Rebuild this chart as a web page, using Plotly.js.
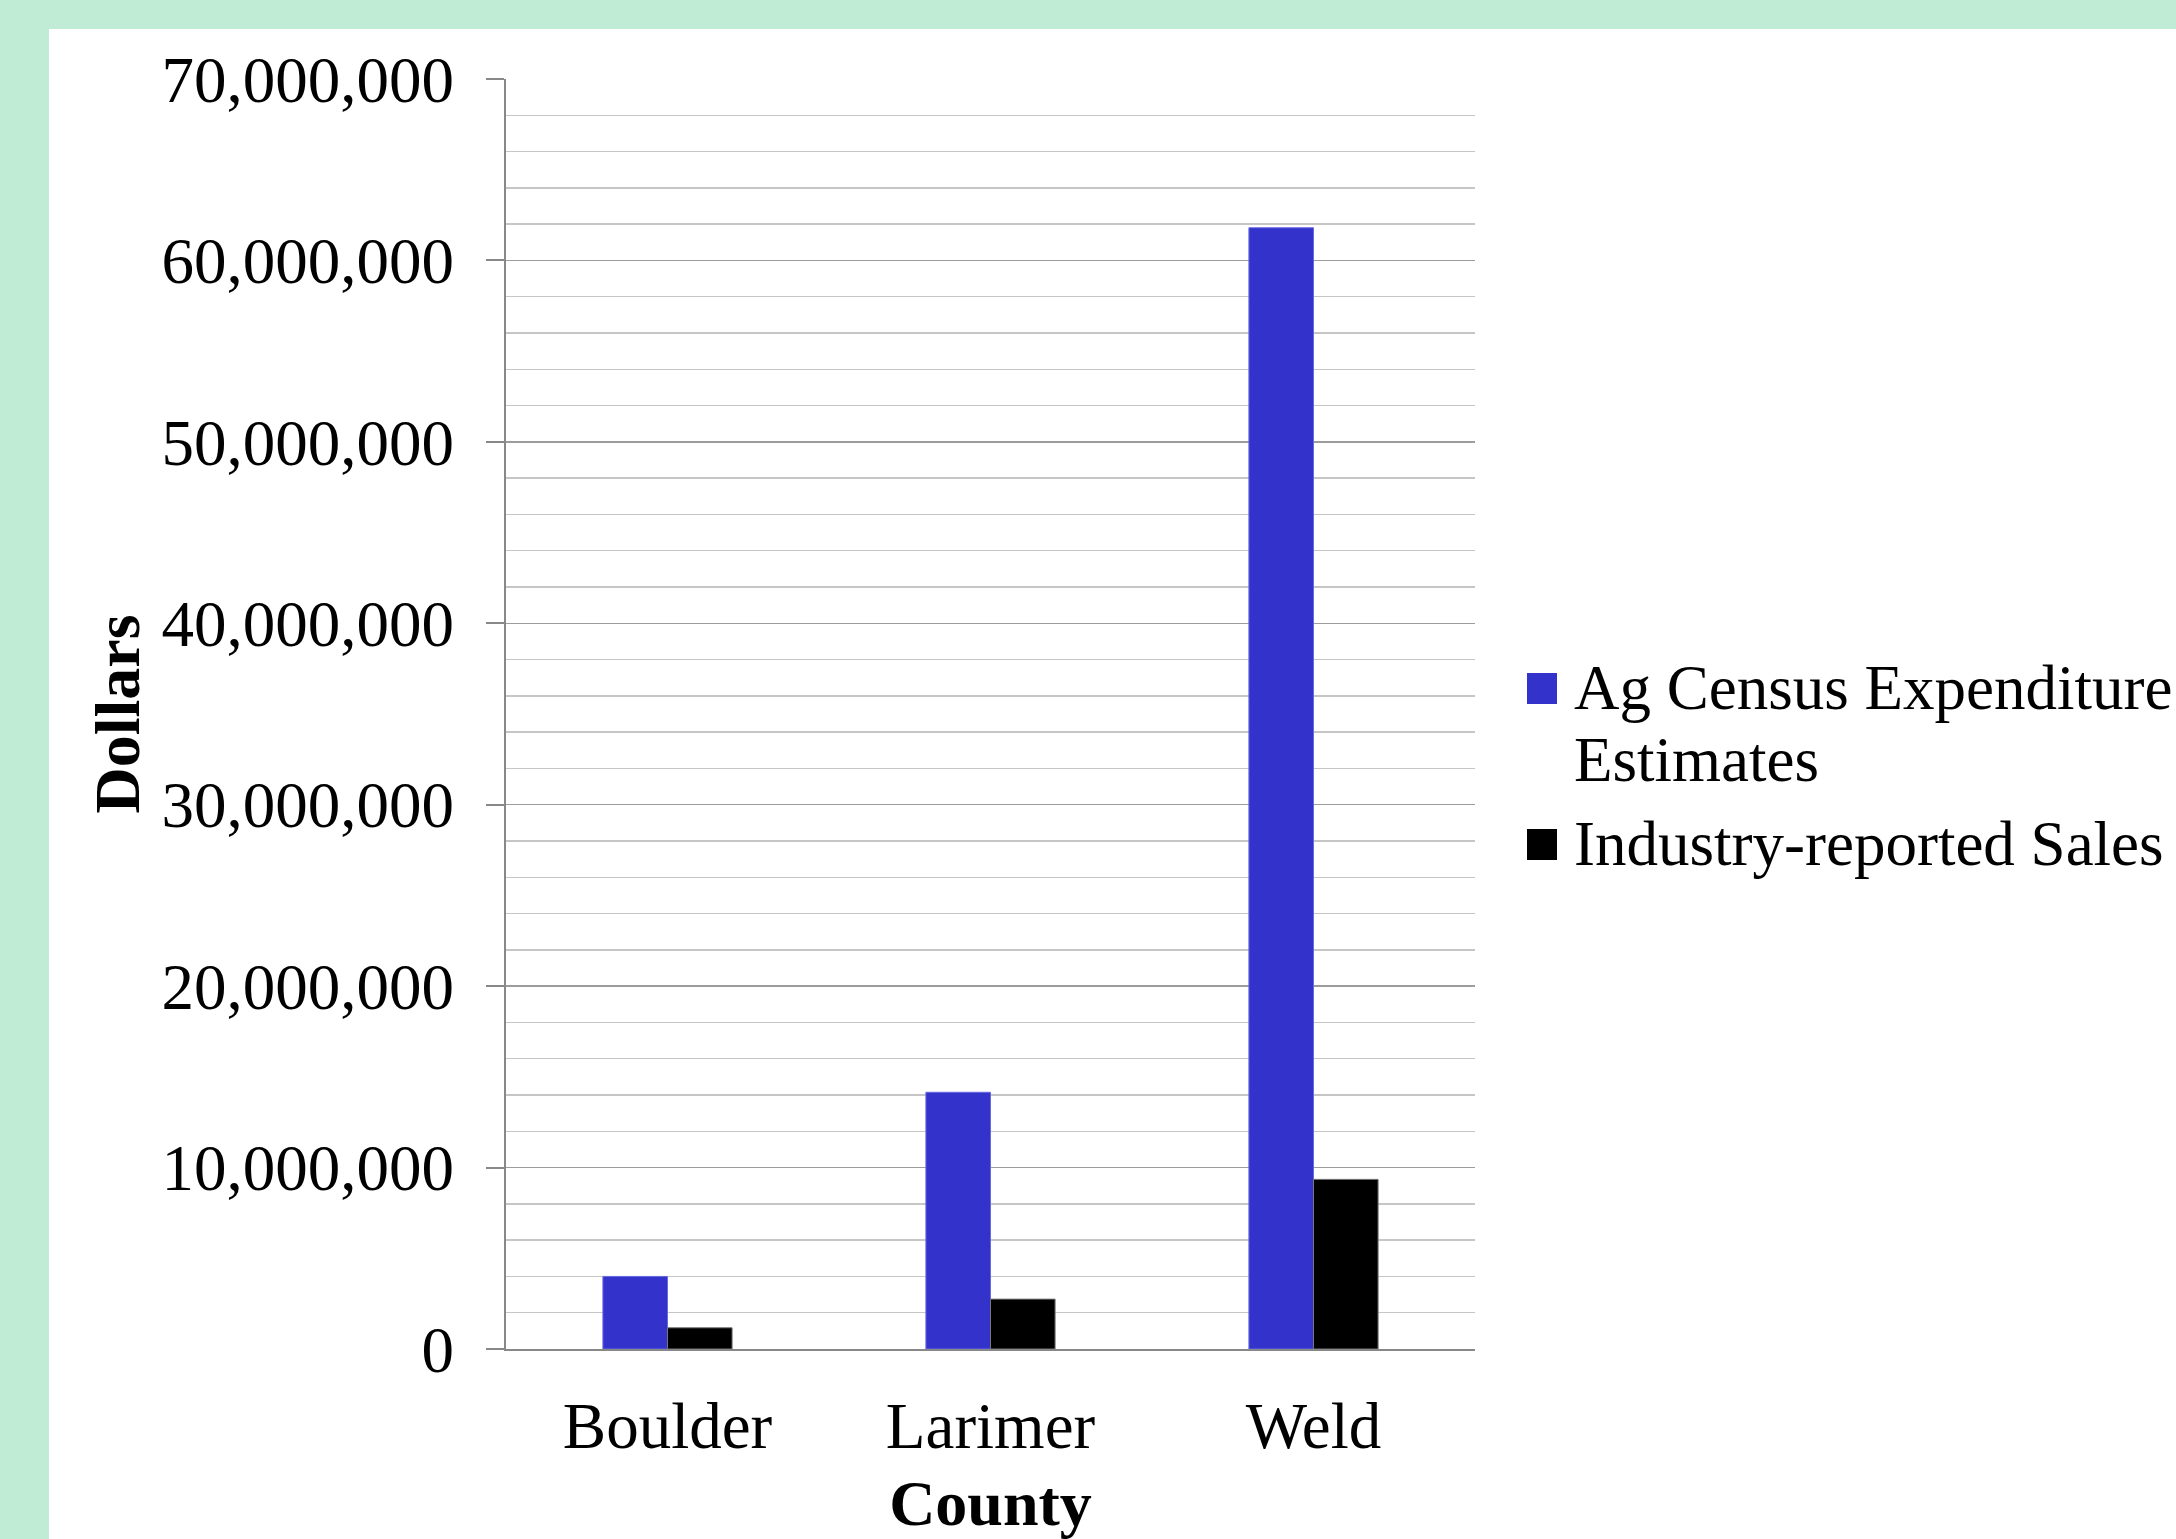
<!DOCTYPE html>
<html>
<head>
<meta charset="utf-8">
<script src="https://cdn.plot.ly/plotly-3.0.1.min.js"></script>
<style>
  html, body { margin: 0; padding: 0; background: #c0ecd5; overflow: hidden; width: 2176px; height: 1539px; }
  #chart { position: absolute; left: 49px; top: 29px; width: 2127px; height: 1510px; background: #ffffff; }
</style>
</head>
<body>
<div id="chart"></div>
<script>
// ---- Data ----
const counties = ["Boulder", "Larimer", "Weld"];
const agCensus = [4000000, 14150000, 61800000];
const industrySales = [1170000, 2750000, 9350000];
const seriesNames = ["Ag Census Expenditure Estimates", "Industry-reported Sales"];
const seriesLegendLines = [["Ag Census Expenditure", "Estimates"], ["Industry-reported Sales"]];
const seriesColors = ["#3333cc", "#000000"];
const yTickValues = [0, 10000000, 20000000, 30000000, 40000000, 50000000, 60000000, 70000000];

// ---- Layout geometry (pixels in page) ----
const DIV_L = 49, DIV_T = 29, W = 2127, H = 1510;
const M = { l: 457, r: 701, t: 50, b: 190 };
const plotW = W - M.l - M.r, plotH = H - M.t - M.b;
const px = x => (x - DIV_L - M.l) / plotW;
const py = y => (H - M.b - (y - DIV_T)) / plotH;

const FONT = "Liberation Serif, Times New Roman, serif";

const traces = [
  {
    type: "bar", name: seriesNames[0], x: counties, y: agCensus,
    marker: { color: seriesColors[0], line: { color: "#6a6ae0", width: 1 } },
    showlegend: false, hoverinfo: "x+y"
  },
  {
    type: "bar", name: seriesNames[1], x: counties, y: industrySales,
    marker: { color: seriesColors[1], line: { color: "#777777", width: 1 } },
    showlegend: false, hoverinfo: "x+y"
  }
];

// Custom legend (large swatches like the original)
const shapes = [
  { type: "rect", xref: "paper", yref: "paper", x0: px(1527), x1: px(1557), y0: py(704), y1: py(673),
    fillcolor: seriesColors[0], line: { width: 0 } },
  { type: "rect", xref: "paper", yref: "paper", x0: px(1527), x1: px(1557), y0: py(860), y1: py(829),
    fillcolor: seriesColors[1], line: { width: 0 } }
];
const legendY = [[688, 760], [844]];
const annotations = [];
seriesLegendLines.forEach((lines, i) => {
  lines.forEach((t, j) => {
    annotations.push({
      xref: "paper", yref: "paper", x: px(1572), y: py(legendY[i][j]),
      xanchor: "left", yanchor: "middle", showarrow: false, text: t,
      font: { family: FONT, size: 63, color: "#000000" }
    });
  });
});

const layout = {
  width: W, height: H,
  margin: M,
  paper_bgcolor: "#ffffff", plot_bgcolor: "#ffffff",
  font: { family: FONT, size: 65, color: "#000000" },
  barmode: "group", bargap: 0.6, bargroupgap: 0,
  showlegend: false,
  xaxis: {
    type: "category",
    showline: true, linecolor: "#888888", linewidth: 2,
    ticks: "outside", ticklen: 19, tickcolor: "rgba(0,0,0,0)",
    tickfont: { family: FONT, size: 65 },
    title: { text: "<b>County</b>", font: { family: FONT, size: 64 }, standoff: 22 },
    showgrid: false, zeroline: false, fixedrange: true
  },
  yaxis: {
    range: [0, 70000000],
    tickvals: yTickValues,
    tickformat: ",d",
    showline: true, linecolor: "#888888", linewidth: 2,
    ticks: "outside", ticklen: 18, tickcolor: "#888888", tickwidth: 2,
    ticklabelstandoff: 19,
    tickfont: { family: FONT, size: 65 },
    showgrid: true, gridcolor: "#9c9c9c", gridwidth: 1.5,
    minor: { dtick: 2000000, showgrid: true, gridcolor: "#c6c6c6", gridwidth: 1.5, ticks: "" },
    zeroline: false,
    title: { text: "<b>Dollars</b>", font: { family: FONT, size: 64 }, standoff: 1 },
    fixedrange: true
  },
  shapes: shapes,
  annotations: annotations
};

Plotly.newPlot("chart", traces, layout, { displayModeBar: false, staticPlot: true });
</script>
</body>
</html>
